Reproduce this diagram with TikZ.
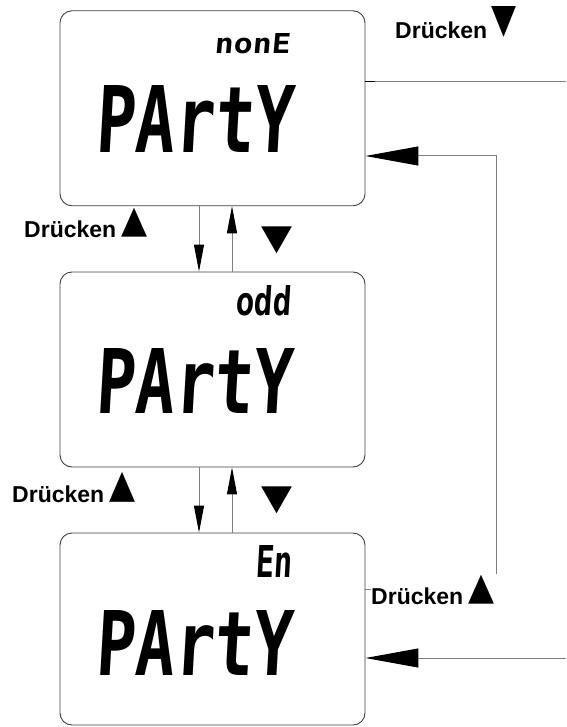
\documentclass[tikz,border=0pt]{standalone}
\usepackage{fontspec}
\usepackage{graphicx}
\setmainfont{Liberation Sans}
\newfontfamily\lcdfont[FakeSlant=0.08]{DejaVu Sans Mono Bold}
\newfontfamily\symfont{DejaVu Sans}
\usetikzlibrary{arrows.meta}

% LCD readout text, stretched to a given width and height
\newcommand\lcdtext[3]{\resizebox{#1}{#2}{\lcdfont #3}}
% key symbol, bottom on the baseline, stretched to a given size
\newcommand\keytri[3]{\resizebox*{#1}{#2}{\symfont\raisebox{\depth}{#3}}}

\begin{document}
\begin{tikzpicture}[x=1pt,y=-1pt,
  display/.style={draw=black!75, line width=0.9pt, rounded corners=12pt,
    fill=white, inner sep=0pt, minimum width=305pt},
  lcd/.style={inner sep=0pt, anchor=north west},
  keylabel/.style={inner sep=0pt, anchor=base west,
    font=\fontsize{23}{27}\selectfont\bfseries},
  keymark/.style={inner sep=0pt, anchor=north west},
  link/.style={draw=black!50, line width=1pt},
  stepup/.style={link, -{Triangle[length=27pt,width=10pt,color=black]}},
  jump/.style={link, -{Triangle[length=53pt,width=19pt,color=black]}},
]
\useasboundingbox (0,0) rectangle (566,727);

% the three display states
\node[display, minimum height=195pt] (b1) at (212.5,108.3) {};
\node[display, minimum height=195pt] (b2) at (212.5,369.5) {};
\node[display, minimum height=192pt] (b3) at (212.5,629) {};

% readouts
\node[lcd] (t1) at (214,33)  {\lcdtext{76pt}{20pt}{nonE}};
\node[lcd] (p1) at (95,85)   {\lcdtext{198pt}{67pt}{PArtY}};
\node[lcd] (t2) at (235,285) {\lcdtext{56pt}{30pt}{odd}};
\node[lcd] (p2) at (95,348)  {\lcdtext{197pt}{65pt}{PArtY}};
\node[lcd] (t3) at (255,545) {\lcdtext{37pt}{32pt}{En}};
\node[lcd] (p3) at (95,610)  {\lcdtext{197pt}{65pt}{PArtY}};

% key labels
\node[keylabel] (k0) at (395,39)  {Drücken\hspace{4pt}\raisebox{2pt}{\keytri{25pt}{31pt}{▼}}};
\node[keylabel] (k1) at (24,237)  {Drücken\hspace{5pt}\keytri{26pt}{29pt}{▲}};
\node[keylabel] (k2) at (12,502)  {Drücken\hspace{5pt}\keytri{26pt}{30pt}{▲}};
\node[keylabel] (k3) at (371,604) {Drücken\hspace{5pt}\keytri{26pt}{29pt}{▲}};
\node[keymark] (d1) at (261,227) {\keytri{31pt}{27pt}{▼}};
\node[keymark] (d2) at (261,487) {\keytri{31pt}{27pt}{▼}};

% steps between neighbouring states
\coordinate (xd) at (199,0);
\coordinate (xu) at (232,0);
\draw[stepup] (xd |- b1.south) -- (xd |- b2.north);
\draw[stepup] (xu |- b2.north) -- (xu |- b1.south);
\draw[stepup] (xd |- b2.south) -- (xd |- b3.north);
\draw[stepup] (xu |- b3.north) -- (xu |- b2.south);

% wrap-around links on the right
\coordinate (exit) at (566,82);
\draw[link] (b1.east |- exit) -- (exit);
\draw[black, line width=1pt] (b1.east |- exit) -- ++(10,0);
\coordinate (loopfoot) at (496,574);
\coordinate (loopin) at (0,156);
\draw[jump] (loopfoot) |- (b1.east |- loopin);
\coordinate (entry) at (566,658);
\draw[jump] (entry) -- (b3.east |- entry);
\coordinate (k3tick) at (371,589);
\draw[link] (b3.east |- k3tick) -- (k3tick);
\end{tikzpicture}
\end{document}
